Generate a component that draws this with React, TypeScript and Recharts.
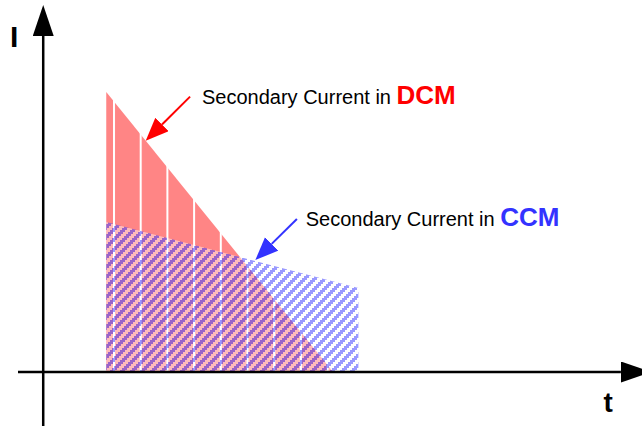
import React from "react";
import { ComposedChart, Area, XAxis, YAxis, ReferenceLine } from "recharts";

// DCM: secondary current ramps down to zero before the period ends
const dcmTime = [2, 9.2];
const dcmCurrent = [9.33, 0];

// CCM: secondary current never reaches zero
const ccmTime = [2, 10];
const ccmCurrent = [5.0, 2.8];

const axisLabels = { y: "I", x: "t" };
const dcmLabel = ["Secondary Current in ", "DCM"];
const ccmLabel = ["Secondary Current in ", "CCM"];

const dcmData = dcmTime.map((t, i) => ({ t, i: dcmCurrent[i] }));
const ccmData = ccmTime.map((t, i) => ({ t, i: ccmCurrent[i] }));

const FONT = '"Liberation Sans", Arial, sans-serif';
const HATCH = "rgb(70,70,255)";

const arrowLine = (stroke: string, width: number, marker: string) => (p: any) => (
  <line x1={p.x1} y1={p.y1} x2={p.x2} y2={p.y2} stroke={stroke} strokeWidth={width} markerEnd={`url(#${marker})`} />
);

// stair-stepped upward diagonal hatch: 10px tile, 2px rows, each row shifted 2px
const TILE = 10;
const STEP = 2;
const hatchCells: { x: number; y: number; on: boolean }[] = [];
for (let y = 0; y < TILE; y += STEP) {
  const shift = (TILE - y) % TILE;
  for (let x = 0; x < TILE; x += 1) {
    hatchCells.push({ x, y, on: (x - shift + TILE) % TILE < TILE / 2 });
  }
}

export default function App() {
  return (
    <div style={{ position: "absolute", left: 0, top: 0, width: 642, height: 429, background: "#fff", overflow: "hidden" }}>
      <ComposedChart width={642} height={429} margin={{ top: 0, right: 0, bottom: 0, left: 18 }}>
        <defs>
          <pattern id="dcmFill" patternUnits="userSpaceOnUse" x={113} y={0} width={26.7} height={10}>
            <rect x={0} y={0} width={26.7} height={10} fill="#ff8585" />
            <rect x={0} y={0} width={2} height={10} fill="#ffffff" />
          </pattern>
          <pattern id="ccmFill" patternUnits="userSpaceOnUse" x={0} y={0} width={TILE} height={TILE}>
            {hatchCells.map((c) => (
              <rect
                key={`${c.x}-${c.y}`}
                x={c.x}
                y={c.y}
                width={1}
                height={STEP}
                fill={c.on ? HATCH : "#ffffff"}
                fillOpacity={c.on ? 0.55 : 0.44}
                shapeRendering="crispEdges"
              />
            ))}
          </pattern>
          <marker id="arrowBlack" markerUnits="userSpaceOnUse" markerWidth={32} markerHeight={22} refX={0} refY={10.5} orient="auto">
            <path d="M0,0 L31,10.5 L0,21 Z" fill="#000" />
          </marker>
          <marker id="arrowRed" markerUnits="userSpaceOnUse" markerWidth={24} markerHeight={20} refX={0} refY={9.5} orient="auto">
            <path d="M0,0 L23,9.5 L0,19 Z" fill="#ff0000" />
          </marker>
          <marker id="arrowBlue" markerUnits="userSpaceOnUse" markerWidth={24} markerHeight={20} refX={0} refY={9.5} orient="auto">
            <path d="M0,0 L23,9.5 L0,19 Z" fill="#3333ff" />
          </marker>
        </defs>
        <XAxis type="number" dataKey="t" domain={[-0.8, 19]} hide allowDataOverflow />
        <YAxis type="number" dataKey="i" domain={[-1.9, 12.4]} hide allowDataOverflow />
        <Area data={dcmData} dataKey="i" type="linear" baseValue={0} fill="url(#dcmFill)" fillOpacity={1} stroke="none" isAnimationActive={false} />
        <Area data={ccmData} dataKey="i" type="linear" baseValue={0} fill="url(#ccmFill)" fillOpacity={1} stroke="none" isAnimationActive={false} />
        <ReferenceLine segment={[{ x: 0, y: -1.8 }, { x: 0, y: 11.2 }]} ifOverflow="visible" shape={arrowLine("#000", 2.5, "arrowBlack")} />
        <ReferenceLine segment={[{ x: -0.8, y: 0 }, { x: 18.33, y: 0 }]} ifOverflow="visible" shape={arrowLine("#000", 2.5, "arrowBlack")} />
        <ReferenceLine segment={[{ x: 4.66, y: 9.18 }, { x: 3.77, y: 8.25 }]} ifOverflow="visible" shape={arrowLine("#ff0000", 2, "arrowRed")} />
        <ReferenceLine segment={[{ x: 8.05, y: 5.1 }, { x: 7.25, y: 4.27 }]} ifOverflow="visible" shape={arrowLine("#3333ff", 2, "arrowBlue")} />
      </ComposedChart>
      <svg width={642} height={429} style={{ position: "absolute", left: 0, top: 0, pointerEvents: "none" }}>
        <text x={10} y={46.5} fontFamily={FONT} fontWeight="bold" fontSize={30} fill="#000">{axisLabels.y}</text>
        <text x={603.5} y={411.5} fontFamily={FONT} fontWeight="bold" fontSize={28} fill="#000">{axisLabels.x}</text>
        <text x={202} y={104.3} fontFamily={FONT} fontSize={20} fill="#000">
          {dcmLabel[0]}
          <tspan fontWeight="bold" fontSize={26} fill="#ff0000">{dcmLabel[1]}</tspan>
        </text>
        <text x={305.7} y={226} fontFamily={FONT} fontSize={20} fill="#000">
          {ccmLabel[0]}
          <tspan fontWeight="bold" fontSize={26} fill="#3333ff">{ccmLabel[1]}</tspan>
        </text>
      </svg>
    </div>
  );
}
